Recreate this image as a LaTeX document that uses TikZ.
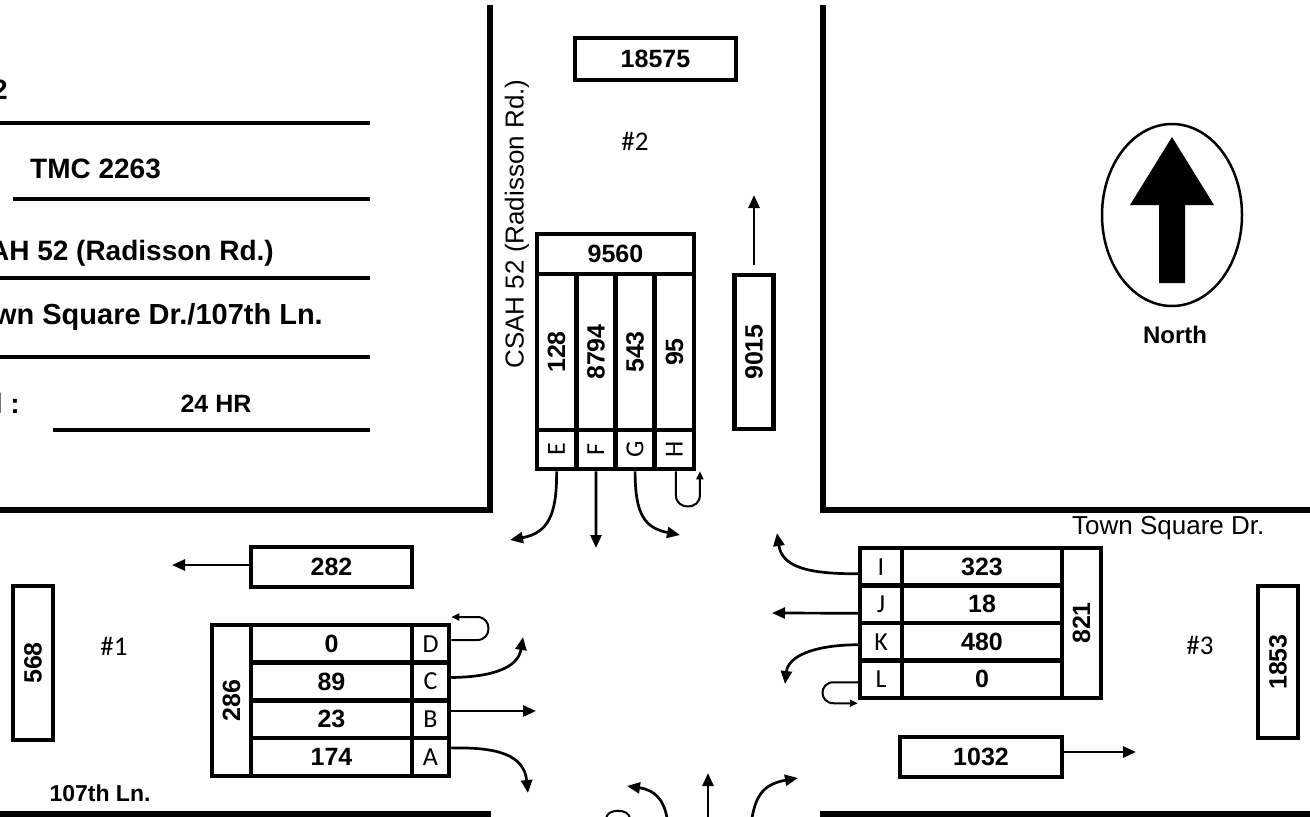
\documentclass[tikz,border=0pt]{standalone}
\usepackage{fontspec}
\usepackage{graphicx}
\setmainfont{Liberation Sans}
\newfontfamily\lanefont{Carlito}
\usetikzlibrary{arrows.meta}
\begin{document}
\begin{tikzpicture}[x=1pt,y=-1pt,
  road/.style={line width=6pt},
  rule/.style={line width=4pt},
  vol/.style={draw,line width=4.5pt,inner sep=0pt,font=\bfseries\fontsize{25}{25}\selectfont},
  lane/.style={draw,line width=4.5pt,inner sep=0pt,font=\lanefont\fontsize{26}{26}\selectfont},
  mv/.style={line width=2.7pt,-{Triangle[length=13pt,width=11pt]}},
  ut/.style={line width=2pt,-{Triangle[length=8pt,width=7pt]}},
  hd/.style={font=\bfseries\fontsize{28}{28}\selectfont,inner sep=0pt},
  tag/.style={font=\lanefont\fontsize{27}{27}\selectfont,inner sep=0pt}]
\useasboundingbox (0,0) rectangle (1310,817);
\clip (0,0) rectangle (1310,817);
% roads
\draw[road] (490,5) -- (490,509.5) -- (0,509.5);
\draw[road] (823,5) -- (823,509.5) -- (1310,509.5);
\draw[road] (0,814) -- (491,814);
\draw[road] (820,814) -- (1310,814);
% count form
\node[hd,anchor=east] (hNum) at (8,90) {2};
\node[hd,anchor=west] (hTmc) at (30,169) {TMC 2263};
\node[hd,anchor=east] (hNs) at (274,253) {AH 52 (Radisson Rd.)};
\node[hd,anchor=east,font=\bfseries\fontsize{29}{29}\selectfont] (hEw) at (323,317) {wn Square Dr./107th Ln.};
\node[hd,anchor=east] (hPer) at (20,403) {l :};
\node[font=\bfseries\fontsize{25}{25}\selectfont,inner sep=0pt] (hDur) at (216,404) {24 HR};
\draw[rule] (0,123) -- (370,123);
\draw[rule] (13,199) -- (370,199);
\draw[rule] (0,278) -- (370,278);
\draw[rule] (0,357) -- (370,357);
\draw[rule] (53,430) -- (370,430);
% north leg
\node[vol,minimum width=161,minimum height=42] (n18575) at (655.5,59) {18575};
\node[tag] (site2) at (635,141) {\#2};
\node[rotate=90,font=\fontsize{26}{26}\selectfont,inner sep=0pt] (csah) at (517,224) {CSAH 52 (Radisson Rd.)};
\node[vol,minimum width=157,minimum height=40] (n9560) at (615.5,254) {9560};
\node[vol,minimum width=39.25,minimum height=156] (n128) at (556.6,352) {\rotatebox{90}{128}};
\node[vol,minimum width=39.25,minimum height=156] (n8794) at (595.9,352) {\rotatebox{90}{8794}};
\node[vol,minimum width=39.25,minimum height=156] (n543) at (635.1,352) {\rotatebox{90}{543}};
\node[vol,minimum width=39.25,minimum height=156] (n95) at (674.4,352) {\rotatebox{90}{95}};
\node[lane,minimum width=39.25,minimum height=39] (nE) at (556.6,449.5) {\rotatebox{90}{E}};
\node[lane,minimum width=39.25,minimum height=39] (nF) at (595.9,449.5) {\rotatebox{90}{F}};
\node[lane,minimum width=39.25,minimum height=39] (nG) at (635.1,449.5) {\rotatebox{90}{G}};
\node[lane,minimum width=39.25,minimum height=39] (nH) at (674.4,449.5) {\rotatebox{90}{H}};
\node[vol,minimum width=39,minimum height=154] (n9015) at (754,352) {\rotatebox{90}{9015}};
\coordinate (nUpt) at (754,195);
\coordinate (nEt) at (510,540);
\coordinate (nFt) at (596,548);
\coordinate (nGt) at (680,535);
\draw[mv] ([yshift=8pt]n9015.north) -- (nUpt);
\draw[mv] (nE.south) .. controls (557,515) and (548,533) .. (nEt);
\draw[mv] (nF.south) -- (nFt);
\draw[mv] (nG.south) .. controls (635,515) and (645,528) .. (nGt);
\draw[ut] ([xshift=1.5pt]nH.south) -- ++(0,24) .. controls +(0,15) and +(0,15) .. ++(24,0) -- ++(0,-24);
% west leg
\node[vol,minimum width=161,minimum height=40] (w282) at (331.5,567) {282};
\coordinate (w282t) at (172,565);
\draw[mv] ([yshift=2pt]w282.west) -- (w282t);
\node[vol,minimum width=40,minimum height=154] (w568) at (33,663) {\rotatebox{90}{568}};
\node[tag] (site1) at (114,646) {\#1};
\node[font=\bfseries\fontsize{23}{23}\selectfont,inner sep=0pt] (wName) at (100,793) {107th Ln.};
\node[vol,minimum width=39,minimum height=151] (w286) at (231.5,700.5) {\rotatebox{90}{286}};
\node[vol,minimum width=161,minimum height=38] (w0) at (331.5,644) {0};
\node[vol,minimum width=161,minimum height=38] (w89) at (331.5,681.5) {89};
\node[vol,minimum width=161,minimum height=38] (w23) at (331.5,719) {23};
\node[vol,minimum width=161,minimum height=38] (w174) at (331.5,757) {174};
\node[lane,minimum width=37,minimum height=38] (wD) at (430.5,644) {D};
\node[lane,minimum width=37,minimum height=38] (wC) at (430.5,681.5) {C};
\node[lane,minimum width=37,minimum height=38] (wB) at (430.5,719) {B};
\node[lane,minimum width=37,minimum height=38] (wA) at (430.5,757) {A};
\coordinate (wCt) at (523,637);
\coordinate (wBt) at (536,711);
\coordinate (wAt) at (528,793);
\draw[ut] ([yshift=4pt]wD.east) -- ++(26,0) .. controls +(15,0) and +(15,0) .. ++(0,-23) -- ++(-26,0);
\draw[mv] ([yshift=4pt]wC.east) .. controls (492,677) and (518,668) .. (wCt);
\draw[mv] ([yshift=8pt]wB.east) -- (wBt);
\draw[mv] ([yshift=9pt]wA.east) .. controls (498,747) and (524,755) .. (wAt);
% east leg
\node[font=\fontsize{26}{26}\selectfont,inner sep=0pt,anchor=west] (eName) at (1072,528) {Town Square Dr.};
\node[lane,minimum width=42,minimum height=37.5] (eI) at (881,566.75) {I};
\node[lane,minimum width=42,minimum height=37.5] (eJ) at (881,604.25) {J};
\node[lane,minimum width=42,minimum height=37.5] (eK) at (881,641.75) {K};
\node[lane,minimum width=42,minimum height=37.5] (eL) at (881,679.25) {L};
\node[vol,minimum width=160,minimum height=37.5] (e323) at (982,566.75) {323};
\node[vol,minimum width=160,minimum height=37.5] (e18) at (982,604.25) {18};
\node[vol,minimum width=160,minimum height=37.5] (e480) at (982,641.75) {480};
\node[vol,minimum width=160,minimum height=37.5] (e0) at (982,679.25) {0};
\node[vol,minimum width=39,minimum height=150] (e821) at (1081.5,623) {\rotatebox{90}{821}};
\node[tag] (site3) at (1200,645) {\#3};
\node[vol,minimum width=40,minimum height=152] (e1853) at (1278,662) {\rotatebox{90}{1853}};
\node[vol,minimum width=162,minimum height=40] (e1032) at (981,757) {1032};
\coordinate (e1032t) at (1136,752);
\draw[mv] ([yshift=5pt]e1032.east) -- (e1032t);
\coordinate (eIt) at (777,533);
\coordinate (eJt) at (772,613);
\coordinate (eKt) at (785,684);
\draw[mv] ([yshift=-7pt]eI.west) .. controls (805,574) and (782,566) .. (eIt);
\draw[mv] ([yshift=-9pt]eJ.west) -- (eJt);
\draw[mv] ([yshift=-3pt]eK.west) .. controls (812,645) and (788,657) .. (eKt);
\draw[ut] ([yshift=-3pt]eL.west) -- ++(-24,0) .. controls +(-15,0) and +(-15,0) .. ++(0,21) -- ++(24,0);
% south leg
\coordinate (sLb) at (667,818);
\coordinate (sLt) at (627,786);
\coordinate (sTb) at (708,818);
\coordinate (sTt) at (708,773);
\coordinate (sRb) at (752,818);
\coordinate (sRt) at (798,778);
\draw[mv] (sLb) .. controls (664,800) and (655,790) .. (sLt);
\draw[mv] (sTb) -- (sTt);
\draw[mv] (sRb) .. controls (756,795) and (764,784) .. (sRt);
\draw[line width=2pt] (606,819) .. controls (606,808) and (630,808) .. (630,819);
% north sign
\draw[line width=2.5pt] (1172,215) ellipse [x radius=70,y radius=91];
\fill (1172,137) -- (1214,205) -- (1185,205) -- (1185,283) -- (1159,283) -- (1159,205) -- (1130,205) -- cycle;
\node[font=\bfseries\fontsize{24}{24}\selectfont,inner sep=0pt] (north) at (1175,335) {North};
\end{tikzpicture}
\end{document}
